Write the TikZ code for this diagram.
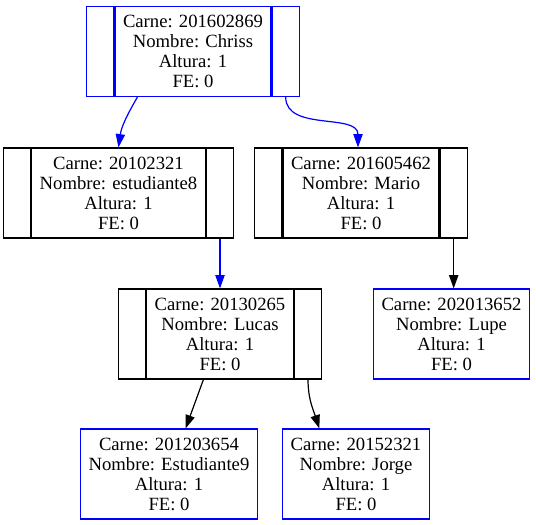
\documentclass[tikz,border=0pt]{standalone}
\usepackage{fontspec}
\setmainfont{Liberation Serif}
\usetikzlibrary{positioning,arrows.meta}

\begin{document}
\begin{tikzpicture}[x=0.75pt,y=-0.75pt,
    campo/.style={draw, line width=0.9pt, minimum height=67.5pt, inner xsep=6pt,
        align=center, font=\fontsize{14}{15}\selectfont},
    lado/.style={draw, line width=0.9pt, minimum height=67.5pt, minimum width=20.25pt, inner sep=0pt},
    hoja/.style={campo, draw=blue},
    flecha/.style={-{Triangle[length=10pt,width=7pt]}, line width=0.9pt}]

    \useasboundingbox (0,0) rectangle (536,525);

    % 1. Nodes that still have child slots on both sides
    \node[campo, draw=blue] (raiz) at (193,51.5) {Carne: 201602869\\Nombre: Chriss\\Altura: 1\\FE: 0};
    \node[lado, draw=blue, left=0pt of raiz] (raizI) {};
    \node[lado, draw=blue, right=0pt of raiz] (raizD) {};

    \node[campo] (est8) at (118.5,193) {Carne: 20102321\\Nombre: estudiante8\\Altura: 1\\FE: 0};
    \node[lado, left=0pt of est8] (est8I) {};
    \node[lado, right=0pt of est8] (est8D) {};

    \node[campo] (mario) at (361,193) {Carne: 201605462\\Nombre: Mario\\Altura: 1\\FE: 0};
    \node[lado, left=0pt of mario] (marioI) {};
    \node[lado, right=0pt of mario] (marioD) {};

    \node[campo] (lucas) at (220,334) {Carne: 20130265\\Nombre: Lucas\\Altura: 1\\FE: 0};
    \node[lado, left=0pt of lucas] (lucasI) {};
    \node[lado, right=0pt of lucas] (lucasD) {};

    % 2. Leaves
    \node[hoja] (lupe) at (451.5,334) {Carne: 202013652\\Nombre: Lupe\\Altura: 1\\FE: 0};
    \node[hoja] (est9) at (169,474) {Carne: 201203654\\Nombre: Estudiante9\\Altura: 1\\FE: 0};
    \node[hoja] (jorge) at (356,474) {Carne: 20152321\\Nombre: Jorge\\Altura: 1\\FE: 0};

    % 3. Blue edges
    \draw[flecha, blue] ([xshift=17.25pt]raiz.south west) to[out=-120,in=82] (est8.north);
    \draw[flecha, blue] (raizD.south) to[out=-90,in=90] ([xshift=-2.25pt]mario.north);
    \draw[flecha, blue] (est8D.south) -- (est8D.south |- lucas.north);

    % 4. Black edges
    \draw[flecha] (marioD.south) -- (marioD.south |- lupe.north);
    \draw[flecha] (lucas) -- (est9);
    \draw[flecha] (lucasD.south) to[out=-90,in=108] ([xshift=-27.5pt]jorge.north);

\end{tikzpicture}
\end{document}
